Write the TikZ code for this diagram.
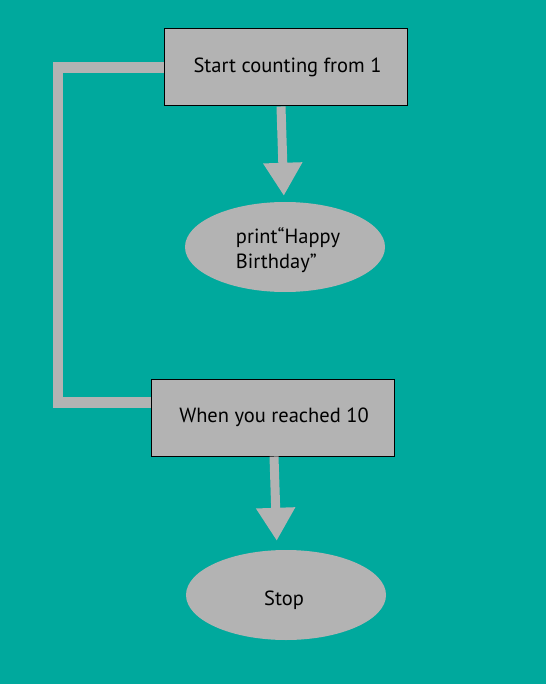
\documentclass[tikz,border=0pt]{standalone}
\usepackage{fontspec}
\setmainfont{PT Sans}
\usetikzlibrary{arrows.meta,shapes.geometric,calc}
\definecolor{tealbg}{RGB}{0,169,157}
\definecolor{boxgray}{RGB}{179,179,179}

\begin{document}
\begin{tikzpicture}[x=1pt,y=1pt,yscale=-1,xscale=1,
  every node/.style={font=\fontsize{20.5}{25}\selectfont},
  stepbox/.style={draw=black, line width=1pt, fill=boxgray, minimum width=243pt, minimum height=77pt, inner sep=0pt},
  oval/.style={ellipse, fill=boxgray, minimum width=200pt, minimum height=90pt, inner sep=0pt},
  flow/.style={draw=boxgray, line width=9pt, -{Triangle[length=33pt,width=37pt]}},
  loopline/.style={draw=boxgray, line width=10.5pt}]
%background and page size
\fill[tealbg] (0,0) rectangle (546,684);
\useasboundingbox (0,0) rectangle (546,684);

\coordinate (turn) at (58,402.5);

\node[stepbox] (start) at (285.5,67.5) {};
\node (starttext) at (287.5,67) {Start counting from 1};
\node[oval] (print) at (285,247) {};
\node[align=left] (printtext) at (288,250) {print“Happy\\Birthday”};
\node[stepbox] (reached) at (272.5,417.5) {};
\node (reachedtext) at (274,417) {When you reached 10};
\node[oval] (stop) at (286,595) {};
\node (stoptext) at (284,600) {Stop};

\draw[loopline] (start.west) -| (turn) -- (turn -| reached.west);
\draw[flow, shorten >=6pt] ($(start.south)+(-4.5,0)$) -- ($(print.north)+(-1,0)$);
\draw[flow, shorten >=9pt] ($(reached.south)+(1.5,0)$) -- ($(stop.north)+(-9,0)$);

\end{tikzpicture}
\end{document}
